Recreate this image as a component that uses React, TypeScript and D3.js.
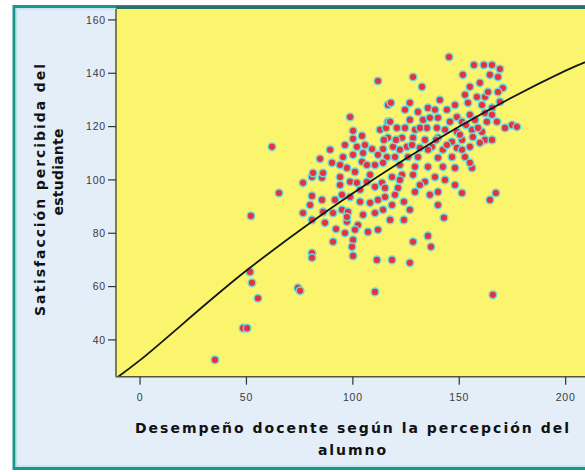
import { scaleLinear, line, curveCatmullRom } from "d3";

// Desempeño docente (x) vs satisfacción percibida (y)
const perfX = [
  35.2, 48.4, 50.3, 51.7, 52.6, 55.4, 52.1, 62.0, 65.3, 74.2, 75.2, 80.8, 80.8, 111.3, 110.4, 165.8,
  128.3, 135.3, 136.7, 118.4, 126.8, 100.1, 90.7, 100.1, 99.6,
  76.6, 80.8, 85.5, 94.0, 94.0, 98.7, 101.9, 106.6, 110.4, 113.7,
  80.8, 85.5, 91.6, 94.9, 98.7, 103.4, 108.1, 111.8, 115.1,
  79.9, 76.6, 86.0, 90.7, 94.9, 97.7, 104.8, 110.4, 114.2,
  80.8, 86.9, 92.1, 97.2, 102.4, 107.1, 111.8, 96.3, 101.0, 97.2,
  84.6, 90.2, 95.4, 100.1, 104.8, 104.3, 109.0, 114.2, 116.0, 101.9, 106.6, 110.4, 114.2,
  97.2, 81.3, 86.0, 111.8, 98.7, 116.5, 100.1, 100.1, 104.3, 112.8, 115.6, 116.5,
  145.2, 156.9, 161.6, 165.4, 169.1, 128.3, 151.7, 132.5, 159.7, 155.0, 158.3, 162.1, 163.5,
  164.4, 168.2, 170.5, 168.2, 169.1, 117.9, 126.8, 154.1, 160.7, 152.7,
  124.5, 130.6, 135.3, 138.6, 144.2, 148.9, 155.0, 162.1, 165.4,
  117.5, 126.8, 133.0, 140.0, 145.6, 151.3, 157.4, 163.0, 167.7,
  120.7, 124.5, 129.2, 134.8, 139.5, 143.3, 148.9, 156.0, 160.7, 171.5, 174.8, 177.1,
  116.5, 123.1, 128.3, 133.9, 140.0, 146.6, 151.3, 156.4, 162.1, 165.4,
  118.9, 125.4, 131.5, 137.2, 142.3, 148.9, 155.0, 159.7,
  119.8, 125.9, 130.6, 140.0, 146.6, 152.7, 151.3,
  122.1, 129.2, 135.3, 142.3, 148.0, 156.0, 155.0,
  118.4, 123.1, 128.3, 133.9, 138.6,
  121.2, 129.2, 140.0, 151.3, 164.4, 167.2,
  118.4, 124.0, 140.0, 117.5, 124.0, 142.8,
  122.1, 127.8, 135.3, 139.1, 144.2, 150.3, 153.2, 158.8, 165.4, 140.9, 148.0, 131.5, 136.2,
  120.3, 114.6, 111.8, 108.1, 103.4, 119.8, 115.1, 105.7, 96.3, 89.3, 94.0, 101.0,
  122.1, 131.5, 136.2, 126.8, 143.3, 148.0,
];

const satY = [
  32.5, 44.4, 44.4, 65.5, 61.4, 55.6, 86.5, 112.4, 95.1, 59.5, 58.4, 72.6, 70.8, 70.0, 58.0, 56.9,
  76.8, 79.0, 74.9, 70.0, 68.9, 71.5, 76.8, 77.5, 74.9,
  98.9, 101.1, 100.8, 101.1, 98.1, 99.3, 98.9, 99.3, 97.4, 98.9,
  94.0, 92.5, 92.5, 94.4, 93.6, 91.8, 91.4, 92.5, 93.6,
  90.6, 87.6, 88.0, 87.6, 88.8, 88.0, 86.9, 87.6, 88.8,
  85.0, 83.9, 81.6, 84.3, 83.1, 80.5, 81.3, 80.1, 81.3, 86.1,
  107.9, 106.4, 108.6, 109.4, 110.1, 106.8, 111.6, 111.6, 108.6, 112.4, 105.6, 105.6, 106.4,
  104.5, 102.6, 102.6, 137.1, 123.6, 128.1, 118.4, 115.4, 116.5, 118.8, 119.5, 121.8,
  146.1, 143.1, 143.1, 143.1, 141.6, 138.6, 139.4, 134.9, 136.4, 134.9, 131.1, 131.1, 133.0,
  139.4, 138.6, 134.5, 133.0, 129.3, 128.9, 128.9, 128.9, 128.1, 131.9,
  126.3, 125.5, 127.0, 126.3, 126.3, 123.6, 124.4, 125.1, 127.0,
  121.8, 122.5, 122.5, 123.3, 121.8, 121.8, 122.5, 121.8, 121.8,
  119.5, 119.5, 118.8, 119.5, 119.5, 118.8, 118.0, 118.8, 118.0, 119.5, 120.6, 119.9,
  115.8, 115.8, 115.8, 115.0, 115.8, 114.3, 115.0, 116.1, 115.0, 115.0,
  112.4, 112.4, 112.0, 112.4, 111.3, 112.0, 112.4, 113.9,
  108.6, 108.6, 108.6, 108.3, 108.6, 108.6, 111.3,
  105.6, 104.9, 104.9, 104.9, 104.5, 104.5, 106.4,
  101.1, 101.9, 101.9, 99.3, 101.1,
  97.0, 95.5, 95.5, 95.1, 92.5, 95.1,
  90.6, 91.8, 90.6, 85.0, 85.0, 85.8,
  111.3, 113.1, 111.3, 115.0, 113.1, 116.9, 120.6, 119.5, 124.4, 130.0, 128.1, 119.5, 123.3,
  115.0, 115.0, 109.4, 101.9, 96.3, 94.4, 97.0, 113.1, 113.1, 111.3, 105.6, 103.0,
  100.0, 98.1, 94.4, 88.8, 100.0, 98.1,
];

// fitted curve, read at a few x positions
const fitX = [-11.3, 0, 50, 100, 150, 200, 215];
const fitY = [25.6, 32.4, 66, 95, 120, 141, 146];

const xTicks = [0, 50, 100, 150, 200];
const yTicks = [40, 60, 80, 100, 120, 140, 160];

const xTitle = ["Desempeño docente según la percepción del", "alumno"];
const yTitle = ["Satisfacción percibida del", "estudiante"];

const W = 585;
const H = 472;
const plot = { left: 116, right: 588, top: 9, bottom: 376.7 };

export default function App() {
  const x = scaleLinear().domain([-11.3, 210.5]).range([plot.left, plot.right]);
  const y = scaleLinear().domain([26.2, 164.1]).range([plot.bottom, plot.top]);

  const fitLine = line<number>()
    .x((_, i) => x(fitX[i]))
    .y((d) => y(d))
    .curve(curveCatmullRom);

  const font = "Arial, 'Liberation Sans', sans-serif";
  const titleFont = "'DejaVu Sans', Verdana, sans-serif";

  return (
    <svg
      width={W}
      height={H}
      style={{ position: "absolute", left: 0, top: 0, overflow: "hidden" }}
      fontFamily={font}
    >
      <defs>
        <clipPath id="plot-clip">
          <rect
            x={plot.left}
            y={plot.top}
            width={plot.right - plot.left}
            height={plot.bottom - plot.top}
          />
        </clipPath>
      </defs>
      <rect x={0} y={0} width={W} height={H} fill="#ffffff" />
      {/* outer frame */}
      <rect x={14} y={6.5} width={600} height={462} fill="#e3eef9" stroke="#1d958f" strokeWidth={3} />
      <rect x={16.5} y={9} width={600} height={457} fill="none" stroke="#b9e6ea" strokeWidth={1.5} />

      {/* plot area */}
      <rect
        x={plot.left}
        y={plot.top}
        width={plot.right - plot.left}
        height={plot.bottom - plot.top}
        fill="#faf56c"
      />
      <line x1={plot.left} x2={plot.right} y1={plot.top - 1.5} y2={plot.top - 1.5} stroke="#2a6f68" strokeWidth={3} />

      <g clipPath="url(#plot-clip)">
        {perfX.map((v, i) => (
          <circle
            key={i}
            cx={x(v)}
            cy={y(satY[i])}
            r={3.8}
            fill="#e8313c"
            stroke="#6cd6da"
            strokeWidth={1.5}
          />
        ))}
        <path d={fitLine(fitY) || undefined} fill="none" stroke="#161616" strokeWidth={1.8} />
      </g>

      {/* axes */}
      <line x1={plot.left} x2={plot.left} y1={plot.top} y2={plot.bottom} stroke="#55553a" strokeWidth={1.5} />
      <line x1={plot.left} x2={plot.right} y1={plot.bottom} y2={plot.bottom} stroke="#55553a" strokeWidth={1.5} />

      {yTicks.map((t) => (
        <g key={t}>
          <line x1={plot.left - 8} x2={plot.left} y1={y(t)} y2={y(t)} stroke="#333" strokeWidth={1.2} />
          <text
            x={plot.left - 10}
            y={y(t)}
            dy="0.35em"
            textAnchor="end"
            fontSize={10.5}
            letterSpacing={0.8}
            fill="#3a3a3a"
          >
            {t}
          </text>
        </g>
      ))}
      {xTicks.map((t) => (
        <g key={t}>
          <line x1={x(t)} x2={x(t)} y1={plot.bottom} y2={plot.bottom + 8} stroke="#333" strokeWidth={1.2} />
          <text
            x={x(t)}
            y={plot.bottom + 21}
            dy="0.35em"
            textAnchor="middle"
            fontSize={10.5}
            letterSpacing={0.8}
            fill="#3a3a3a"
          >
            {t}
          </text>
        </g>
      ))}

      {/* titles */}
      <g fontFamily={titleFont} fontWeight="bold" fill="#111" fontSize={14}>
        <text x={352} y={428} dy="0.35em" textAnchor="middle" textLength={434} lengthAdjust="spacing">
          {xTitle[0]}
        </text>
        <text x={352} y={450} dy="0.35em" textAnchor="middle" textLength={68} lengthAdjust="spacing">
          {xTitle[1]}
        </text>
        <text
          transform={`translate(40,190) rotate(-90)`}
          dy="0.35em"
          textAnchor="middle"
          textLength={252}
          lengthAdjust="spacing"
        >
          {yTitle[0]}
        </text>
        <text
          transform={`translate(58,172) rotate(-90)`}
          dy="0.35em"
          textAnchor="middle"
          textLength={87}
          lengthAdjust="spacing"
        >
          {yTitle[1]}
        </text>
      </g>
    </svg>
  );
}
